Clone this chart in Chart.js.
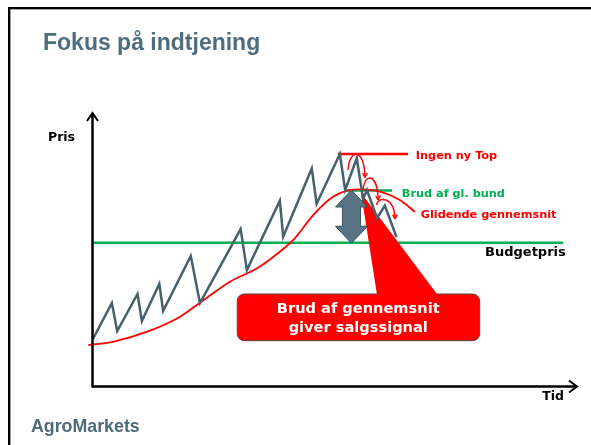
<!DOCTYPE html>
<html><head><meta charset="utf-8">
<script src="https://cdn.jsdelivr.net/npm/chart.js@4.4.1/dist/chart.umd.min.js"></script>
<style>html,body{margin:0;padding:0;background:#fff}#wrap{width:591px;height:445px;position:relative}</style>
</head><body><div id="wrap"><canvas id="c" width="591" height="445"></canvas></div>
<script>
// ---- data (time units 0..100, price units 0..100) ----
const titleText = "Fokus på indtjening";
const logoText = "AgroMarkets";
const timeZig  = [0,3.9,5.0,9.2,10.1,13.7,14.5,20.2,22.1,30.5,31.8,38.6,39.3,45.2,46.2,51.0,52.1,54.5,55.8,56.6,58.7,60.3,62.7];
const priceZig = [17.2,30.4,20.1,33.7,23.8,37.4,27.5,47.6,30.4,57.5,42.5,67.9,54.7,79.7,66.7,85.0,71.8,83.4,68.5,71.8,61.5,66.1,54.6];
const timeMA   = [-1.0,4.1,11.2,18.0,22.1,28.3,33.9,38.6,41.4,45.5,49.6,54.5,59.3,63.4,66.5];
const priceMA  = [15.0,16.2,19.9,25.4,30.5,38.2,43.1,49.2,53.5,62.6,69.3,72.0,71.2,68.1,63.8];
const budgetPrice = 52.5, budgetSpan = [0, 97.1];
const topPrice = 85.0, topSpan = [50.6, 65.1];
const bundPrice = 71.6, bundSpan = [52.1, 61.8];
const labelTexts = ["Ingen ny Top","Brud af gl. bund","Glidende gennemsnit","Budgetpris"];
const labelTime  = [66.7, 63.8, 67.7, 81.0];
const labelPrice = [83.3, 69.4, 61.5, 47.8];
const calloutLines = ["Brud af gennemsnit","giver salgssignal"];
const calloutBox = {t0:29.8, t1:79.9, p0:33.7, p1:16.6};
const calloutTextTime = 54.8, calloutTextPrice = [26.6, 19.9];
const wedgeApex = [55.4, 70.7], wedgeBase = [58.7, 71.3];
const arrowTime = 53.4, arrowPrice = [71.8, 52.3];
const arcStart = [[52.7,79.1],[55.8,71.8],[58.6,66.3]];
const arcApex  = [[54.5,84.9],[57.9,76.1],[60.5,68.1]];
const arcEnd   = [[56.2,76.4],[58.9,68.1],[62.4,61.2]];
const axisTitleY = {text:"Pris", t:-9.3, p:89.6};
const axisTitleX = {text:"Tid", t:92.8, p:-5.3};

const pts = (xs, ys) => xs.map((x,i)=>({x, y:ys[i]}));
const RED='#ff0000', GREEN='#00b050', SLATE='#46606e';
const LBL='bold 11.3px "DejaVu Sans"';

const overlay = {
  id:'overlay',
  beforeDraw(chart){
    const c = chart.ctx;
    c.save();
    c.fillStyle='#fff'; c.fillRect(0,0,chart.width,chart.height);
    c.fillStyle='#000'; c.fillRect(8,7,chart.width-8,2); c.fillRect(8,7,2,chart.height-7);
    c.fillStyle='#a0a0a0'; c.fillRect(10,9,chart.width-10,1); c.fillRect(10,9,1,chart.height-9);
    c.fillStyle='#4e6e7f'; c.font='bold 23px "Liberation Sans", Arial, sans-serif';
    c.textBaseline='alphabetic'; c.textAlign='left';
    c.fillText(titleText, 43, 50);
    c.fillStyle='#4e6b79'; c.font='bold 17.8px "Liberation Sans", Arial, sans-serif';
    c.fillText(logoText, 31, 432);
    c.restore();
  },
  afterDatasetDraw(chart, args){
    if (args.index !== 4) return;
    const c = chart.ctx, X = chart.scales.x, Y = chart.scales.y;
    c.save();
    // callout box
    const bx0=X.getPixelForValue(calloutBox.t0), bx1=X.getPixelForValue(calloutBox.t1);
    const by0=Y.getPixelForValue(calloutBox.p0), by1=Y.getPixelForValue(calloutBox.p1);
    c.beginPath(); c.roundRect(bx0,by0,bx1-bx0,by1-by0,7);
    c.fillStyle=RED; c.fill(); c.lineWidth=1; c.strokeStyle='#6b4040'; c.stroke();
    // wedge
    c.beginPath();
    c.moveTo(X.getPixelForValue(wedgeApex[0]), Y.getPixelForValue(wedgeApex[1]));
    c.lineTo(X.getPixelForValue(wedgeBase[1]), by0+1.5);
    c.lineTo(X.getPixelForValue(wedgeBase[0]), by0+1.5);
    c.closePath(); c.fillStyle=RED; c.fill();
    // callout text
    c.fillStyle='#fff'; c.font='bold 14.6px "DejaVu Sans"'; c.textAlign='center';
    calloutLines.forEach((s,i)=>c.fillText(s, X.getPixelForValue(calloutTextTime), Y.getPixelForValue(calloutTextPrice[i])));
    c.restore();
  },
  afterDatasetsDraw(chart){
    const c = chart.ctx, X = chart.scales.x, Y = chart.scales.y;
    c.save();
    // axes
    const x0=X.getPixelForValue(0), xe=X.getPixelForValue(100), y0=Y.getPixelForValue(0), ye=Y.getPixelForValue(100);
    c.strokeStyle='#000'; c.lineWidth=2.5; c.lineCap='butt';
    c.beginPath(); c.moveTo(x0-0.5, y0+1); c.lineTo(x0-0.5, ye); c.moveTo(x0-1.5, y0+0.5); c.lineTo(xe, y0+0.5); c.stroke();
    c.lineWidth=2;
    c.beginPath(); c.moveTo(x0-6, ye+8); c.lineTo(x0-0.5, ye); c.lineTo(x0+5, ye+8);
    c.moveTo(xe-8, y0-5.5); c.lineTo(xe, y0+0.5); c.lineTo(xe-8, y0+6.5); c.stroke();
    // double arrow
    const ax=X.getPixelForValue(arrowTime), at=Y.getPixelForValue(arrowPrice[0]), ab=Y.getPixelForValue(arrowPrice[1]);
    const hw=16, sw=9, hl=17;
    c.beginPath();
    c.moveTo(ax, at); c.lineTo(ax+hw, at+hl); c.lineTo(ax+sw, at+hl); c.lineTo(ax+sw, ab-hl);
    c.lineTo(ax+hw, ab-hl); c.lineTo(ax, ab); c.lineTo(ax-hw, ab-hl); c.lineTo(ax-sw, ab-hl);
    c.lineTo(ax-sw, at+hl); c.lineTo(ax-hw, at+hl); c.closePath();
    c.fillStyle='#587383'; c.fill(); c.lineWidth=1; c.strokeStyle='#3c505c'; c.stroke();
    // small arcs
    c.strokeStyle=RED; c.fillStyle=RED; c.lineWidth=1.4;
    for (let i=0;i<arcStart.length;i++){
      const p0=[X.getPixelForValue(arcStart[i][0]),Y.getPixelForValue(arcStart[i][1])];
      const pa=[X.getPixelForValue(arcApex[i][0]),Y.getPixelForValue(arcApex[i][1])];
      const p3=[X.getPixelForValue(arcEnd[i][0]),Y.getPixelForValue(arcEnd[i][1])];
      const cy=(pa[1]-(p0[1]+p3[1])/8)/0.75;
      const cx1 = p0[0] + (pa[0]-p0[0])*0.15, cx2 = p3[0] - (p3[0]-pa[0])*0.05;
      c.beginPath(); c.moveTo(p0[0],p0[1]); c.bezierCurveTo(cx1,cy,cx2,cy,p3[0],p3[1]); c.stroke();
      const ang=Math.atan2(p3[1]-cy, p3[0]-cx2);
      c.beginPath(); c.moveTo(p3[0],p3[1]);
      c.lineTo(p3[0]-5*Math.cos(ang-0.5), p3[1]-5*Math.sin(ang-0.5));
      c.moveTo(p3[0],p3[1]);
      c.lineTo(p3[0]-5*Math.cos(ang+0.5), p3[1]-5*Math.sin(ang+0.5)); c.stroke();
    }
    // labels
    c.textAlign='left'; c.textBaseline='alphabetic';
    const colors=[RED, GREEN, RED, '#000'];
    const fonts=[LBL, LBL, LBL, 'bold 13px "DejaVu Sans"'];
    labelTexts.forEach((s,i)=>{ c.fillStyle=colors[i]; c.font=fonts[i];
      c.fillText(s, X.getPixelForValue(labelTime[i]), Y.getPixelForValue(labelPrice[i])); });
    c.fillStyle='#000'; c.font='bold 12.5px "DejaVu Sans"';
    c.fillText(axisTitleY.text, X.getPixelForValue(axisTitleY.t), Y.getPixelForValue(axisTitleY.p));
    c.fillText(axisTitleX.text, X.getPixelForValue(axisTitleX.t), Y.getPixelForValue(axisTitleX.p));
    c.restore();
  }
};

new Chart(document.getElementById('c').getContext('2d'), {
  type:'scatter',
  data:{datasets:[
    {data:pts(timeZig, priceZig), showLine:true, borderColor:SLATE, borderWidth:2.5, pointRadius:0, tension:0, borderJoinStyle:'miter'},
    {data:pts(timeMA, priceMA), showLine:true, borderColor:RED, borderWidth:1.8, pointRadius:0, cubicInterpolationMode:'monotone', clip:false},
    {data:pts(topSpan, [topPrice, topPrice]), showLine:true, borderColor:RED, borderWidth:2.5, pointRadius:0},
    {data:pts(bundSpan, [bundPrice, bundPrice]), showLine:true, borderColor:GREEN, borderWidth:2.5, pointRadius:0},
    {data:pts(budgetSpan, [budgetPrice, budgetPrice]), showLine:true, borderColor:GREEN, borderWidth:2.5, pointRadius:0}
  ]},
  options:{
    responsive:false, animation:false, events:[],
    layout:{padding:{left:93,right:14,top:113,bottom:59}},
    scales:{x:{type:'linear',min:0,max:100,display:false}, y:{type:'linear',min:0,max:100,display:false}},
    plugins:{legend:{display:false}, tooltip:{enabled:false}, title:{display:false}}
  },
  plugins:[overlay]
});
</script></body></html>
